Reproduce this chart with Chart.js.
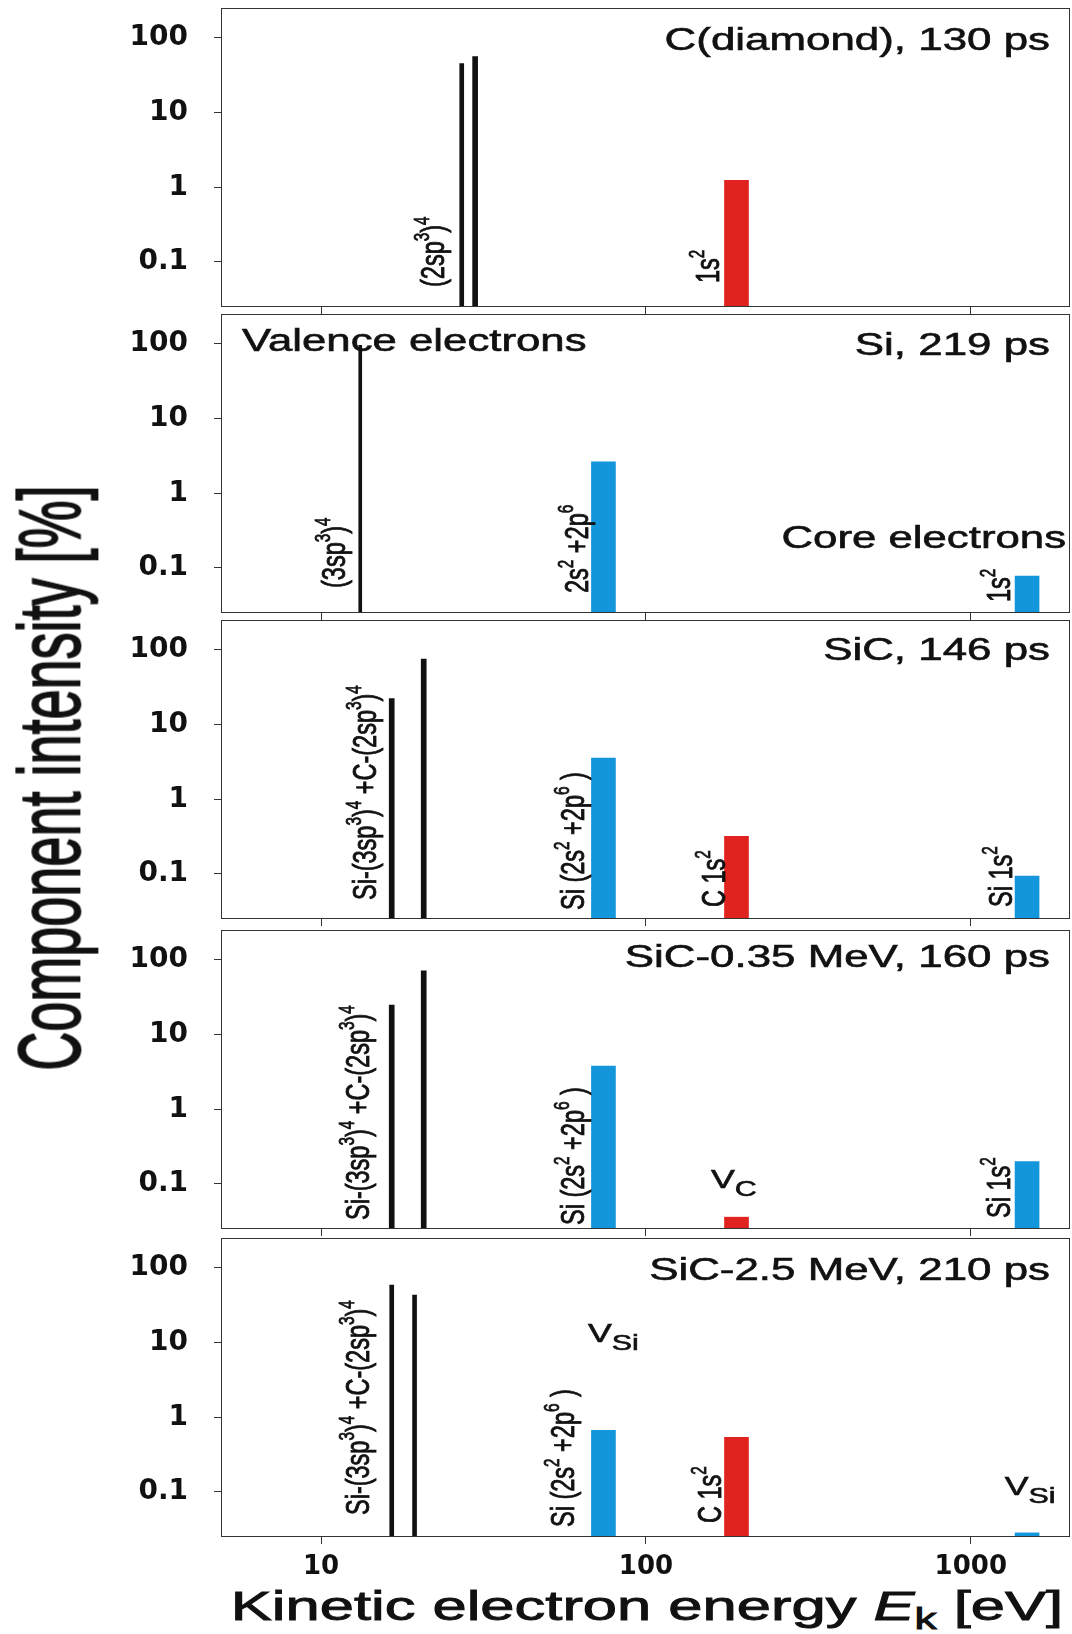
<!DOCTYPE html>
<html>
<head>
<meta charset="utf-8">
<script src="https://cdn.jsdelivr.net/npm/chart.js@4/dist/chart.umd.min.js"></script>
<style>
html,body{margin:0;padding:0;background:#fff;}
#page{position:relative;width:1072px;height:1634px;overflow:hidden;background:#fff;}
.panel{position:absolute;left:0;width:1072px;}
.ytitle{position:absolute;left:49px;top:778px;font-family:'Liberation Sans',Arial,sans-serif;font-size:54px;line-height:1;white-space:nowrap;color:#111;-webkit-text-stroke:1.1px #111;transform:translate(-50%,-50%) scaleX(1.62) rotate(-90deg);}
.xtitle{position:absolute;left:647px;top:1606px;font-family:'Liberation Sans',Arial,sans-serif;font-size:41px;line-height:1;white-space:nowrap;color:#111;-webkit-text-stroke:0.9px #111;transform:translate(-50%,-50%) scaleX(1.5);}
.xtitle .sub{font-size:0.72em;position:relative;top:0.3em;}
</style>
</head>
<body>
<div id="page">
  <div class="panel" id="p0"><canvas id="c0"></canvas></div>
  <div class="panel" id="p1"><canvas id="c1"></canvas></div>
  <div class="panel" id="p2"><canvas id="c2"></canvas></div>
  <div class="panel" id="p3"><canvas id="c3"></canvas></div>
  <div class="panel" id="p4"><canvas id="c4"></canvas></div>
  <div class="ytitle">Component intensity [%]</div>
  <div class="xtitle">Kinetic electron energy <i>E</i><span class="sub">k</span> [eV]</div>
</div>
<script>
// ---------------- data ----------------
const xRange = [4.92, 2020];
const yRange = [0.025, 250];
const xTicks = [10, 100, 1000];
const yTicks = [0.1, 1, 10, 100];

const titles = ['C(diamond), 130 ps', 'Si, 219 ps', 'SiC, 146 ps', 'SiC-0.35 MeV, 160 ps', 'SiC-2.5 MeV, 210 ps'];

// Panel 1: C (diamond)
const p1ValenceE = [27.1, 29.8];
const p1ValenceI = [45, 56];
const p1RedE = [190];
const p1RedI = [1.24];
const p1BlueE = [];
const p1BlueI = [];

// Panel 2: Si
const p2ValenceE = [13.2];
const p2ValenceI = [95];
const p2RedE = [];
const p2RedI = [];
const p2BlueE = [74, 1490];
const p2BlueI = [2.63, 0.078];

// Panel 3: SiC
const p3ValenceE = [16.5, 20.7];
const p3ValenceI = [22.3, 75];
const p3RedE = [190];
const p3RedI = [0.32];
const p3BlueE = [74, 1490];
const p3BlueI = [3.55, 0.094];

// Panel 4: SiC-0.35 MeV
const p4ValenceE = [16.5, 20.7];
const p4ValenceI = [24.7, 71];
const p4RedE = [190];
const p4RedI = [0.036];
const p4BlueE = [74, 1490];
const p4BlueI = [3.77, 0.2];

// Panel 5: SiC-2.5 MeV
const p5ValenceE = [16.5, 19.4];
const p5ValenceI = [58.6, 43];
const p5RedE = [190];
const p5RedI = [0.54];
const p5BlueE = [74, 1490];
const p5BlueI = [0.67, 0.0284];

// ---------------- text helpers ----------------
const FONT = "'Liberation Sans', Arial, sans-serif";
const STRETCH = 1.43;
function drawRich(ctx, x, y, parts, o) {
  const size = o.size;
  ctx.save();
  ctx.translate(x, y);
  ctx.scale(o.stretch || STRETCH, 1);
  if (o.rot) ctx.rotate(-Math.PI / 2);
  ctx.fillStyle = '#111';
  ctx.strokeStyle = '#111';
  ctx.lineWidth = 0.6;
  ctx.textBaseline = 'alphabetic';
  ctx.textAlign = 'left';
  const items = parts.map(p => {
    const t = p[0], k = p[1] || 'n';
    const fs = k === 'sup' ? size * 0.65 : k === 'sub' ? size * 0.85 : size;
    const dy = k === 'sup' ? -size * 0.45 : k === 'sub' ? size * 0.3 : 0;
    const f = fs + 'px ' + FONT;
    ctx.font = f;
    return { t, f, dy, w: ctx.measureText(t).width };
  });
  const total = items.reduce((s, i) => s + i.w, 0);
  let cx = o.align === 'right' ? -total : 0;
  for (const it of items) {
    ctx.font = it.f;
    ctx.fillText(it.t, cx, it.dy);
    ctx.strokeText(it.t, cx, it.dy);
    cx += it.w;
  }
  ctx.restore();
}

const L_2sp = [['(2sp'], ['3', 'sup'], [')'], ['4', 'sup']];
const L_3sp = [['(3sp'], ['3', 'sup'], [')'], ['4', 'sup']];
const L_1s = [['1s'], ['2', 'sup']];
const L_2s2p = [['2s'], ['2', 'sup'], [' +2p'], ['6', 'sup']];
const L_SiC = [['Si-(3sp'], ['3', 'sup'], [')'], ['4', 'sup'], [' +C-(2sp'], ['3', 'sup'], [')'], ['4', 'sup']];
const L_Si2s = [['Si (2s'], ['2', 'sup'], [' +2p'], ['6', 'sup'], [' )']];
const L_C1s = [['C 1s'], ['2', 'sup']];
const L_Si1s = [['Si 1s'], ['2', 'sup']];
const L_VC = [['V'], ['C', 'sub']];
const L_VSi = [['V'], ['Si', 'sub']];

// rotated labels: e = energy at text baseline, b = px above plot bottom
// horizontal: h:true, e = energy of left edge, b = baseline px above plot bottom
const annotations = [
  { title: titles[0], tdy: 42, labels: [
    { parts: L_2sp, e: 23.9, b: 20 },
    { parts: L_1s, e: 167.7, b: 24 } ] },
  { title: titles[1], tdy: 41, labels: [
    { parts: L_3sp, e: 11.85, b: 25 },
    { parts: L_2s2p, e: 66.3, b: 20 },
    { parts: L_1s, e: 1318, b: 11 } ],
    extra: [
      { parts: [['Valence electrons']], left: 21, top: 37 },
      { parts: [['Core electrons']], right: 4, top: 234 } ] },
  { title: titles[2], tdy: 40, labels: [
    { parts: L_SiC, e: 14.77, b: 19 },
    { parts: L_Si2s, e: 64.4, b: 9 },
    { parts: L_C1s, e: 175, b: 12 },
    { parts: L_Si1s, e: 1337, b: 12 } ] },
  { title: titles[3], tdy: 37, labels: [
    { parts: L_SiC, e: 14.05, b: 9 },
    { parts: L_Si2s, e: 64.4, b: 4 },
    { parts: L_Si1s, e: 1318, b: 11 },
    { parts: L_VC, e: 158.5, b: 41, h: true } ] },
  { title: titles[4], tdy: 42, labels: [
    { parts: L_SiC, e: 14.05, b: 22 },
    { parts: L_VSi, e: 66.3, b: 195, h: true },
    { parts: L_Si2s, e: 60.05, b: 10 },
    { parts: L_C1s, e: 170.2, b: 14 },
    { parts: L_VSi, e: 1272, b: 42, h: true } ] }
];

function makeAnnot(spec) {
  return {
    id: 'annot',
    afterDatasetsDraw(chart) {
      const ctx = chart.ctx, a = chart.chartArea, xs = chart.scales.x;
      ctx.save();
      ctx.strokeStyle = '#333';
      ctx.lineWidth = 1;
      ctx.strokeRect(a.left + 0.5, a.top + 0.5, a.right - a.left - 1, a.bottom - a.top - 1);
      ctx.restore();
      drawRich(ctx, a.right - 20, a.top + spec.tdy, [[spec.title]], { size: 30.7, align: 'right' });
      for (const l of spec.labels) {
        const px = xs.getPixelForValue(l.e);
        if (l.h) drawRich(ctx, px, a.bottom - l.b, l.parts, { size: 25 });
        else drawRich(ctx, px, a.bottom - l.b, l.parts, { size: 23.5, rot: true });
      }
      for (const t of (spec.extra || [])) {
        if (t.left !== undefined) drawRich(ctx, a.left + t.left, a.top + t.top, t.parts, { size: 30.6 });
        else drawRich(ctx, a.right - t.right, a.top + t.top, t.parts, { size: 30.6, align: 'right' });
      }
    }
  };
}

// ---------------- charts ----------------
const BLACK = '#111111', BLUE = '#1496dc', RED = '#e0231e';
const panelTops = [8, 314, 620, 930, 1238];
const PLOT_H = 299;
const panelData = [
  [p1ValenceE, p1ValenceI, p1RedE, p1RedI, p1BlueE, p1BlueI, [4, 5]],
  [p2ValenceE, p2ValenceI, p2RedE, p2RedI, p2BlueE, p2BlueI, [3]],
  [p3ValenceE, p3ValenceI, p3RedE, p3RedI, p3BlueE, p3BlueI, [5, 5]],
  [p4ValenceE, p4ValenceI, p4RedE, p4RedI, p4BlueE, p4BlueI, [5, 5]],
  [p5ValenceE, p5ValenceI, p5RedE, p5RedI, p5BlueE, p5BlueI, [4, 4]]
];

panelData.forEach((pd, i) => {
  const [vE, vI, rE, rI, bE, bI, lw] = pd;
  const last = i === panelData.length - 1;
  const bottomH = last ? 45 : 8;
  const div = document.getElementById('p' + i);
  div.style.top = (panelTops[i] - 8) + 'px';
  div.style.height = (8 + PLOT_H + bottomH) + 'px';

  const datasets = [];
  vE.forEach((e, k) => datasets.push({
    data: [{ x: e, y: vI[k] }], backgroundColor: BLACK, barThickness: lw[k] || 4, grouped: false, borderWidth: 0
  }));
  datasets.push({ data: bE.map((e, k) => ({ x: e, y: bI[k] })), backgroundColor: BLUE, barThickness: 24, grouped: false, borderWidth: 0 });
  datasets.push({ data: rE.map((e, k) => ({ x: e, y: rI[k] })), backgroundColor: RED, barThickness: 24, grouped: false, borderWidth: 0 });

  new Chart(document.getElementById('c' + i), {
    type: 'bar',
    data: { datasets },
    options: {
      responsive: true,
      maintainAspectRatio: false,
      animation: false,
      devicePixelRatio: 1,
      layout: { padding: { top: 8, left: 0, right: 2, bottom: 0 } },
      plugins: { legend: { display: false }, tooltip: { enabled: false } },
      scales: {
        x: {
          type: 'logarithmic', min: xRange[0], max: xRange[1], offset: false,
          afterBuildTicks: s => { s.ticks = xTicks.map(v => ({ value: v })); },
          afterFit: s => { s.height = bottomH; s.paddingLeft = 0; s.paddingRight = 0; },
          grid: { display: true, drawOnChartArea: false, drawTicks: true, tickLength: 7, color: '#333', offset: false },
          border: { display: false },
          ticks: { display: last, autoSkip: false, maxRotation: 0, padding: 8, color: '#111',
                   font: { family: 'DejaVu Sans', weight: 'bold', size: 26 }, callback: v => String(v) }
        },
        y: {
          type: 'logarithmic', min: yRange[0], max: yRange[1],
          afterBuildTicks: s => { s.ticks = yTicks.map(v => ({ value: v })); },
          afterFit: s => { s.width = 221; s.paddingTop = 0; s.paddingBottom = 0; },
          grid: { display: true, drawOnChartArea: false, drawTicks: true, tickLength: 7, color: '#333' },
          border: { display: false },
          ticks: { autoSkip: false, padding: 26, color: '#111',
                   font: { family: 'DejaVu Sans', weight: 'bold', size: 28 }, callback: v => String(v) }
        }
      }
    },
    plugins: [makeAnnot(annotations[i])]
  });
});
</script>
</body>
</html>
